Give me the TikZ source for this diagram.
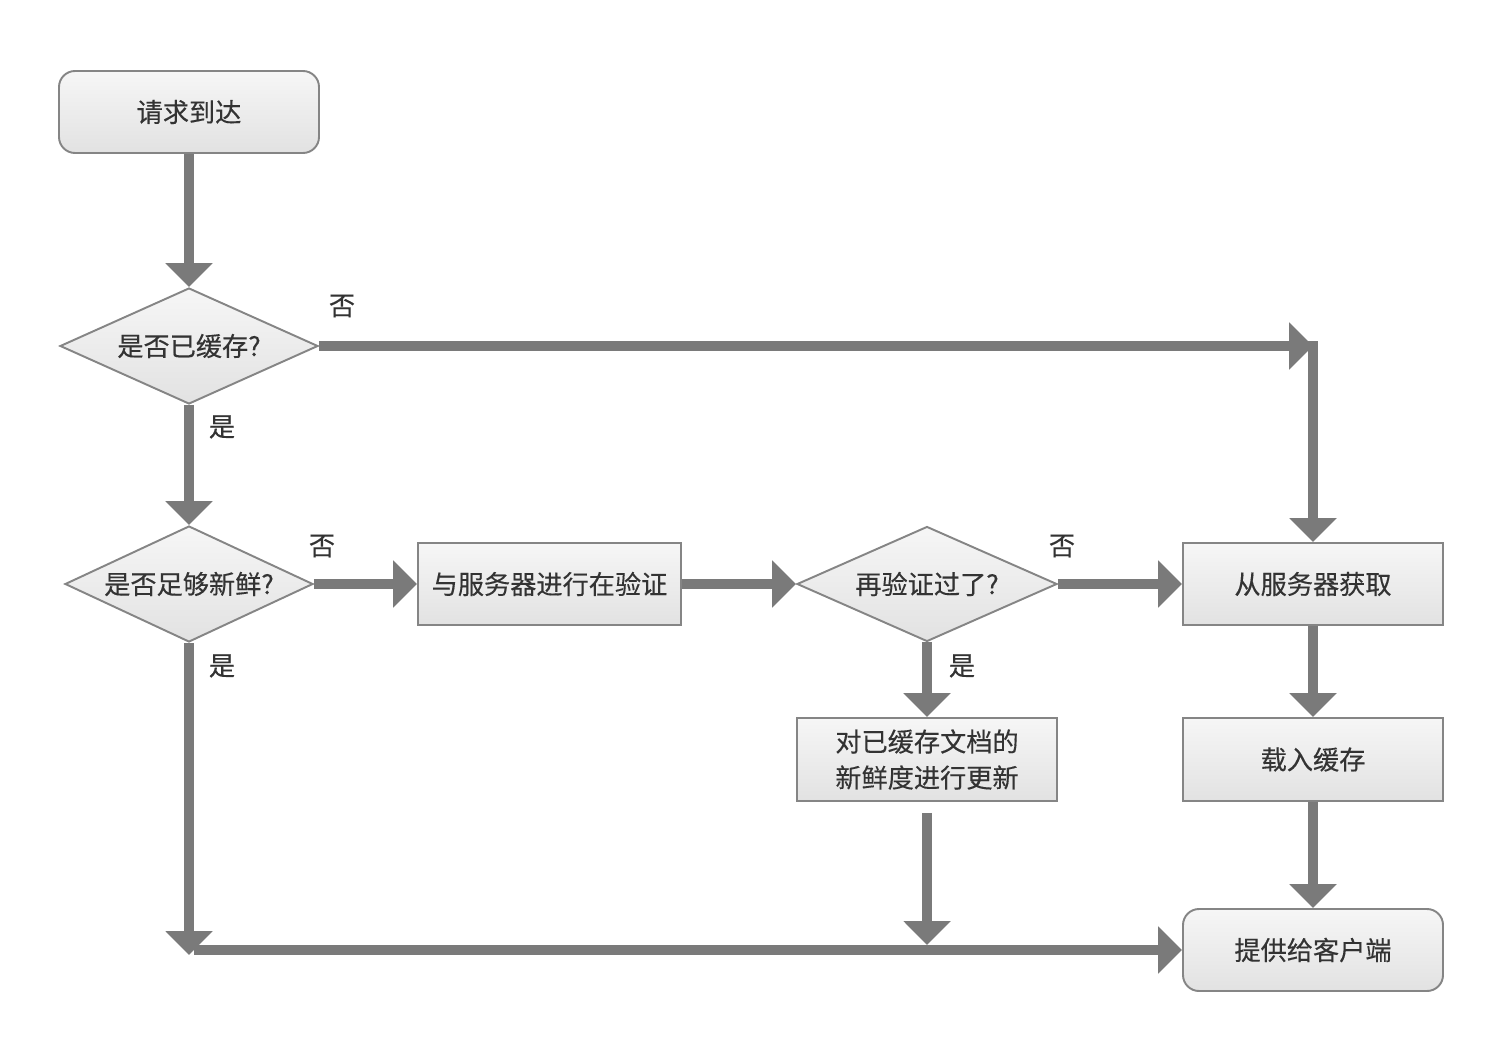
\documentclass[tikz,border=0pt]{standalone}
\usepackage{fontspec}
\setmainfont{Noto Sans CJK SC}[FakeBold=0.3]
\usepackage{tikz}
\usetikzlibrary{arrows.meta}
\usetikzlibrary{shapes.geometric}

\definecolor{linegray}{HTML}{7A7A7A}
\definecolor{bordergray}{HTML}{858585}
\definecolor{boxtop}{HTML}{F6F6F6}
\definecolor{boxbottom}{HTML}{E2E2E2}
\definecolor{textgray}{HTML}{333333}

\begin{document}
\begin{tikzpicture}
        \tikzset{vertex/.style = {shape=rectangle,draw=bordergray,line width=1.1pt,top color=boxtop,bottom color=boxbottom,minimum width=5.2cm,minimum height=1.64cm,inner sep=0pt,align=center,text=textgray,font=\fontsize{14.9}{20.5}\selectfont}}
        \tikzset{decision/.style = {vertex,shape=diamond,aspect=2.2,minimum width=5.16cm,minimum height=2.32cm}}
        \tikzset{terminal/.style = {vertex,rounded corners=0.32cm}}
        \tikzset{edge/.style = {draw=linegray,line width=0.2cm,-{Triangle[length=0.48cm,width=0.92cm]}}}
        \tikzset{branch/.style = {text=textgray,font=\fontsize{14.9}{17}\selectfont}}
        \useasboundingbox (0,0) rectangle (29.88,-21.28);
        \node[terminal] (arrive) at (3.78,-2.24) {请求到达};
        \node[decision] (cached) at (3.78,-6.92) {是否已缓存?};
        \node[decision,minimum width=4.96cm] (fresh) at (3.78,-11.68) {是否足够新鲜?};
        \node[vertex,minimum width=5.26cm] (validate) at (10.99,-11.68) {与服务器进行在验证};
        \node[decision,minimum width=5.2cm,minimum height=2.3cm] (checked) at (18.54,-11.68) {再验证过了?};
        \node[vertex] (fetch) at (26.26,-11.68) {从服务器获取};
        \node[vertex,minimum height=1.66cm] (refresh) at (18.54,-15.19) {对已缓存文档的\\新鲜度进行更新};
        \node[vertex,minimum height=1.66cm] (load) at (26.26,-15.19) {载入缓存};
        \node[terminal] (serve) at (26.26,-19.0) {提供给客户端};
        \coordinate (nocache) at (fetch.north |- cached.east);
        \coordinate (freshjoin) at (fresh.south |- serve.west);
        \coordinate (refreshjoin) at (refresh.south |- serve.west);
        \draw[edge] (arrive) -- (cached);
        \draw[edge] (cached) -- (fresh);
        \draw[edge] (cached.east) -- (nocache);
        \draw[edge,shorten <=-0.1cm] (nocache) -- (fetch);
        \draw[edge] (fresh.east) -- (validate);
        \draw[edge] (validate) -- (checked.west);
        \draw[edge] (checked.east) -- (fetch);
        \draw[edge] (checked) -- (refresh);
        \draw[edge] (fetch) -- (load);
        \draw[edge] (load) -- (serve);
        \draw[edge,shorten >=-0.1cm] (fresh) -- (freshjoin);
        \draw[edge,shorten <=0.22cm,shorten >=0.1cm] (refresh) -- (refreshjoin);
        \draw[edge,shorten <=0.1cm] (freshjoin) -- (serve);
        \node[branch] (no1) at (6.84,-6.12) {否};
        \node[branch] (yes1) at (4.44,-8.54) {是};
        \node[branch] (no2) at (6.44,-10.92) {否};
        \node[branch] (yes2) at (4.44,-13.32) {是};
        \node[branch] (no3) at (21.24,-10.92) {否};
        \node[branch] (yes3) at (19.24,-13.32) {是};
    \end{tikzpicture}
\end{document}
